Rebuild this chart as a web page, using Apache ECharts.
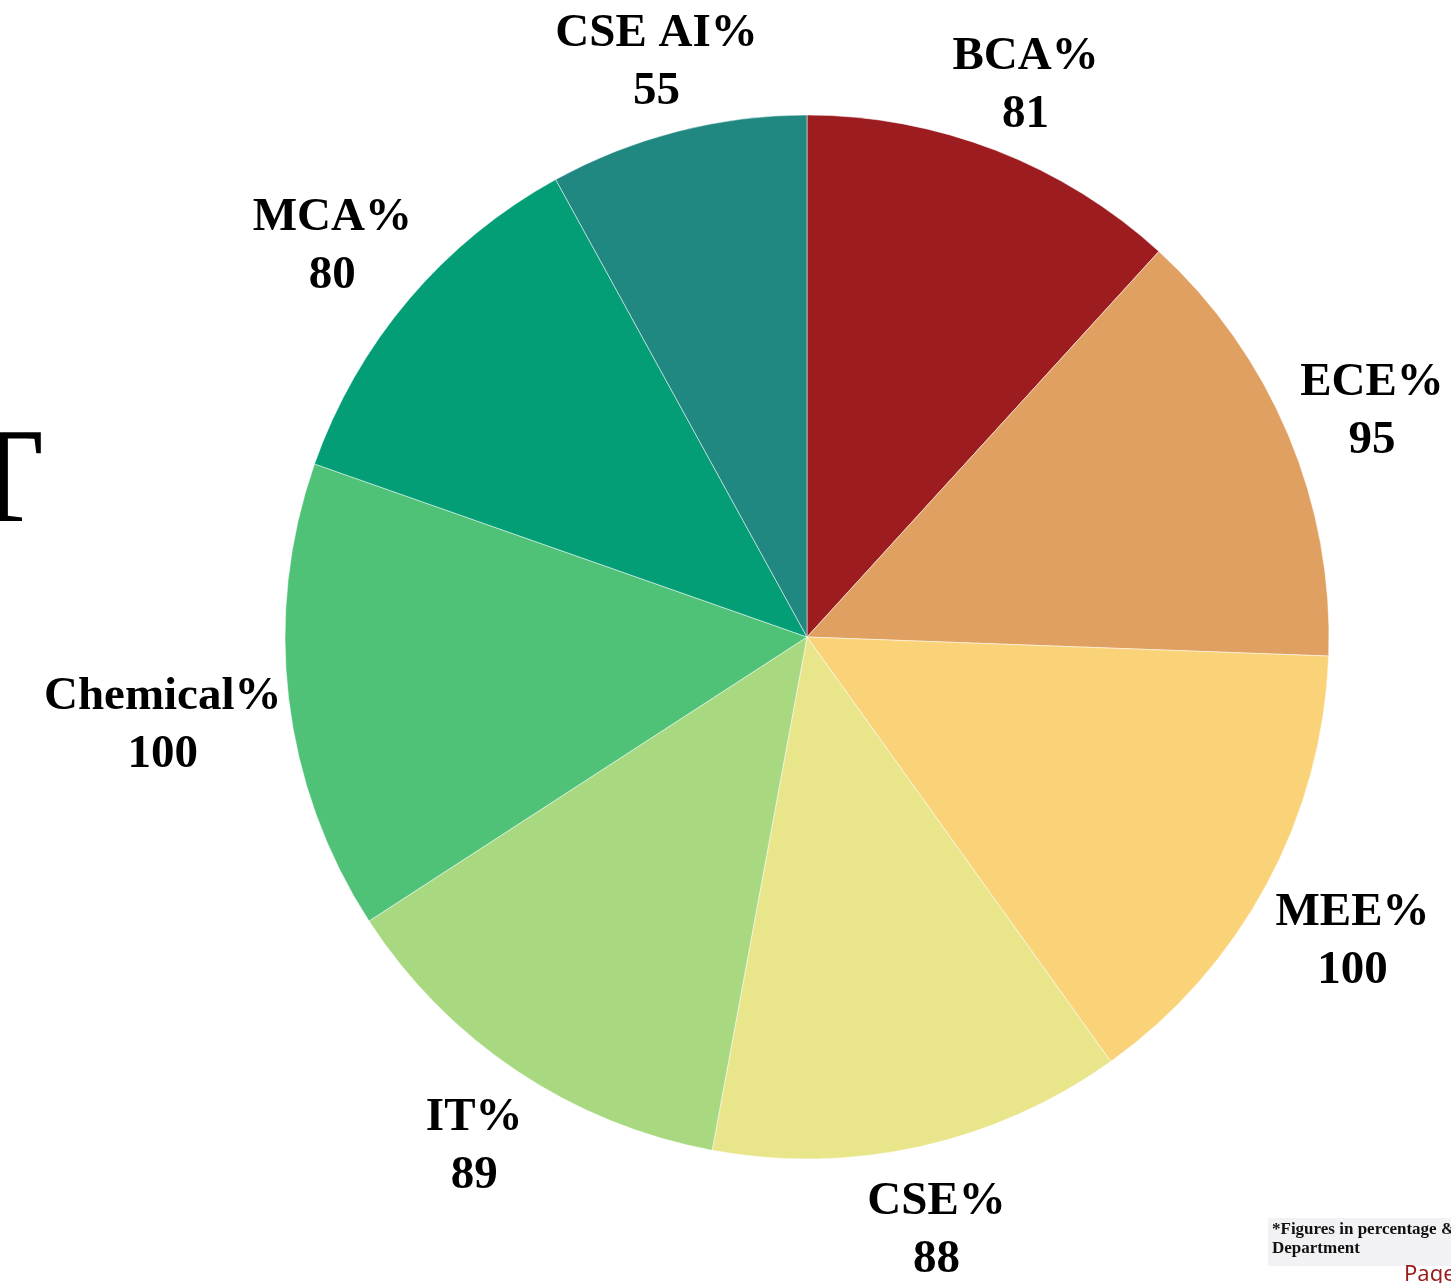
<!DOCTYPE html>
<html>
<head>
<meta charset="utf-8">
<script src="https://cdn.jsdelivr.net/npm/echarts@6/dist/echarts.min.js"></script>
<style>
html,body{margin:0;padding:0;background:#fff;overflow:hidden;}
#chart{width:1451px;height:1283px;}
</style>
</head>
<body>
<div id="chart"></div>
<script>
var categories = ['BCA%', 'ECE%', 'MEE%', 'CSE%', 'IT%', 'Chemical%', 'MCA%', 'CSE AI%'];
var values = [81, 95, 100, 88, 89, 100, 80, 55];
var colors = ['#9C1C1F', '#E0A061', '#FAD379', '#E8E58B', '#A8D980', '#50C278', '#039E76', '#208880'];

var CX = 807, CY = 637, R = 522, GAP = 2, TEXT_DY = 12;
var total = values.reduce(function (a, b) { return a + b; }, 0);

var chart = echarts.init(document.getElementById('chart'), null, { renderer: 'canvas' });
chart.setOption({
  backgroundColor: '#ffffff',
  animation: false,
  color: colors,
  graphic: [
    { type: 'text', left: -40, top: 417, style: { text: 'T', font: 'normal 136px "Liberation Serif"', fill: '#000' } },
    { type: 'rect', shape: { x: 1268, y: 1218, width: 190, height: 48 }, style: { fill: '#F2F2F4' } },
    { type: 'text', x: 1272, y: 1221, style: { text: '*Figures in percentage & Average per', font: 'bold 17px "Liberation Serif"', fill: '#111' } },
    { type: 'text', x: 1272, y: 1240, style: { text: 'Department', font: 'bold 17px "Liberation Serif"', fill: '#111' } },
    { type: 'text', x: 1404, y: 1264, style: { text: 'Page', font: 'normal 22px "Noto Sans"', fill: '#9B1C1C' } }
  ],
  series: [{
    type: 'pie',
    center: [CX, CY],
    radius: R,
    startAngle: 90,
    clockwise: true,
    avoidLabelOverlap: false,
    itemStyle: { borderColor: '#ffffff', borderWidth: 0.5 },
    label: {
      show: true,
      position: 'outside',
      formatter: '{b}\n{c}',
      fontFamily: '"Liberation Serif", serif',
      fontWeight: 'bold',
      fontSize: 47,
      lineHeight: 58,
      color: '#000'
    },
    labelLine: { show: false, length: 0, length2: 0 },
    labelLayout: function (p) {
      var i = p.dataIndex;
      var before = 0;
      for (var k = 0; k < i; k++) before += values[k];
      var mid = (before + values[i] / 2) / total * 2 * Math.PI;
      var s = Math.sin(mid), c = Math.cos(mid);
      var w = p.labelRect.width, h = p.labelRect.height;
      var d = R + GAP + w / 2 * Math.abs(s) + h / 2 * Math.abs(c);
      return { x: CX + d * s, y: CY - d * c + TEXT_DY, align: 'center', verticalAlign: 'middle', hideOverlap: false };
    },
    emphasis: { disabled: true },
    data: categories.map(function (n, i) { return { name: n, value: values[i] }; })
  }]
});
</script>
</body>
</html>
